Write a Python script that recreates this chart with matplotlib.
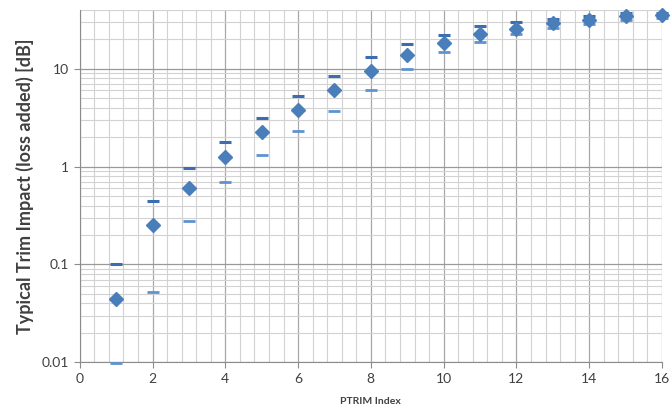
import numpy as np
import matplotlib.pyplot as plt
from matplotlib.ticker import MultipleLocator, LogLocator, FixedLocator, NullFormatter

# %%
## Data
ptrim = [1, 2, 3, 4, 5, 6, 7, 8, 9, 10, 11, 12, 13, 14, 15, 16]
typical = [0.044, 0.25, 0.61, 1.25, 2.27, 3.8, 6.1, 9.6, 14.0, 18.3, 22.8, 25.7, 29.3, 31.7, 34.3, 35.1]
upper = [0.102, 0.45, 0.96, 1.8, 3.17, 5.33, 8.5, 13.1, 18.0, 22.4, 27.1, 29.8, 32.4, 34.6, 37.1, 37.6]
lower = [0.0098, 0.052, 0.28, 0.69, 1.32, 2.3, 3.74, 6.0, 10.0, 14.7, 18.9, 22.6, 26.3, 28.9, 31.2, 33.0]

BLUE = "#4A7EBB"
TXT = "#404040"

# %%
plt.rcParams["font.family"] = ["Lato", "DejaVu Sans"]
fig = plt.figure(figsize=(6.7, 4.13), dpi=100)
ax = fig.add_axes([0.119, 0.123, 0.869, 0.853])

ax.plot(ptrim, upper, ls="none", marker="_", ms=9, mew=2.2, color="#3C6DB0", clip_on=False, zorder=3)
ax.plot(ptrim, lower, ls="none", marker="_", ms=9, mew=2.0, color="#5E92D0", clip_on=False, zorder=3)
ax.plot(ptrim, typical, ls="none", marker="D", ms=7, color=BLUE, clip_on=False, zorder=4)

ax.set_yscale("log")
ax.set_ylim(0.01, 40)
ax.set_xlim(0, 16)

ax.xaxis.set_major_locator(MultipleLocator(2))
ax.xaxis.set_minor_locator(MultipleLocator(0.4))
ax.yaxis.set_major_locator(FixedLocator([0.01, 0.1, 1, 10]))
ax.yaxis.set_minor_locator(LogLocator(base=10, subs=np.arange(2, 10)))
ax.yaxis.set_minor_formatter(NullFormatter())
ax.set_yticklabels(["0.01", "0.1", "1", "10"])

ax.grid(which="major", axis="x", color="#A8A8A8", lw=0.9)
ax.grid(which="major", axis="y", color="#999999", lw=0.9)
ax.grid(which="minor", axis="both", color="#D2D2D2", lw=0.8)
ax.set_axisbelow(True)

for s in ["top", "right"]:
    ax.spines[s].set_visible(False)
for s in ["left", "bottom"]:
    ax.spines[s].set_color("#8C8C8C")

ax.tick_params(which="major", length=4, color="#8C8C8C", labelsize=10, labelcolor=TXT)
ax.tick_params(which="minor", length=0)

ax.set_ylabel("Typical Trim Impact (loss added) [dB]", fontsize=13, fontweight="bold", color=TXT, labelpad=6)
ax.set_xlabel("PTRIM Index", fontsize=7.5, fontweight="bold", color=TXT, labelpad=9)

fig.savefig("out.png", dpi=100)
